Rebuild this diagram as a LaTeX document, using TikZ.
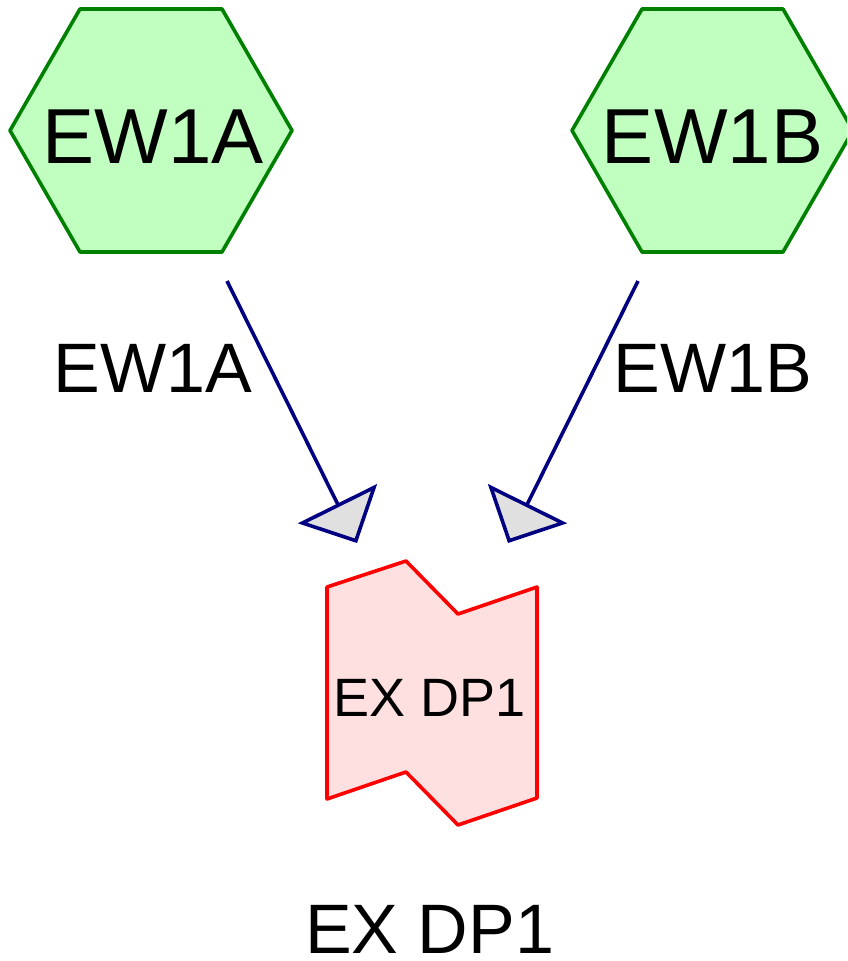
\documentclass[tikz,border=0pt]{standalone}
\usepackage{fontspec}
\setmainfont{Liberation Sans}
\usetikzlibrary{arrows.meta}
\definecolor{hexfill}{HTML}{C0FFC0}
\definecolor{hexline}{HTML}{008000}
\definecolor{arrline}{HTML}{000080}
\definecolor{arrfill}{HTML}{E0E0E0}
\definecolor{dpfill}{HTML}{FFE0E0}
\definecolor{dpline}{HTML}{FF0000}
\tikzset{
  hexshape/.style={draw=hexline, fill=hexfill, line width=3.6pt, line join=round},
  dpshape/.style={draw=dpline, fill=dpfill, line width=3.6pt, line join=round},
  bigtext/.style={font=\fontsize{78}{78}\selectfont, anchor=base, inner sep=0pt},
  lbltext/.style={font=\fontsize{70}{70}\selectfont, anchor=base, inner sep=0pt, text depth=0pt},
  intext/.style={font=\fontsize{54}{54}\selectfont, anchor=base, inner sep=0pt},
  flow/.style={draw=arrline, line width=3.6pt,
    -{Triangle[length=44pt, width=88pt, fill=arrfill, line join=miter]}},
}
\begin{document}
\begin{tikzpicture}[x=1pt, y=-1pt]
\useasboundingbox (0,0) rectangle (847,961);
\clip (0,0) rectangle (847,961);
% hexagons
\draw[hexshape] (10,130.5) -- (80,9) -- (222,9) -- (292,130.5) -- (222,252) -- (80,252) -- cycle;
\draw[hexshape] (572,130.5) -- (642,9) -- (783,9) -- (853,130.5) -- (783,252) -- (642,252) -- cycle;
\node[bigtext] (ew1a) at (153,163) {EW1A};
\node[bigtext] (ew1b) at (712.5,163) {EW1B};
% DP shape
\draw[dpshape] (327,587) -- (406,561) -- (458,614) -- (537,587) -- (537,798) -- (458,825) -- (406,772) -- (327,799) -- cycle;
\node[intext] (dp) at (429.5,716) {EX DP1};
% connectors
\coordinate (sa) at (227,281);
\coordinate (ta) at (357,543);
\coordinate (sb) at (638,281);
\coordinate (tb) at (508,543);
\draw[flow] (sa) -- (ta);
\draw[flow] (sb) -- (tb);
% labels
\node[lbltext] (la) at (152.5,392) {EW1A};
\node[lbltext] (lb) at (712.5,392) {EW1B};
\node[lbltext] (ldp) at (429.5,953) {EX DP1};
\end{tikzpicture}
\end{document}
